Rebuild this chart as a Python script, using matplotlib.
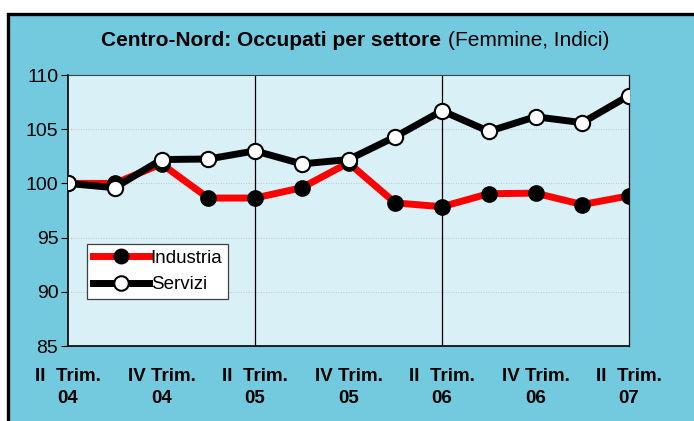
import numpy as np
import matplotlib
matplotlib.use('Agg')
import matplotlib.pyplot as plt
from matplotlib.patches import Rectangle

plt.rcParams['font.family'] = ['Liberation Sans', 'DejaVu Sans']

# dati: indici, II trim. 2004 = 100
trimestri = np.arange(13)
industria = [100.0, 100.0, 101.8, 98.65, 98.65, 99.6, 101.9, 98.2, 97.85, 99.05, 99.1, 98.05, 98.85]
servizi = [100.0, 99.6, 102.2, 102.25, 103.0, 101.8, 102.2, 104.3, 106.7, 104.8, 106.15, 105.6, 108.1]
etichette = ['II  Trim.\n04', 'IV Trim.\n04', 'II  Trim.\n05', 'IV Trim.\n05',
             'II  Trim.\n06', 'IV Trim.\n06', 'II  Trim.\n07']

blu = '#73cadf'
fondo = '#daf0f7'

fig = plt.figure(figsize=(6.94, 4.21), dpi=100, facecolor='white')
fig.patches.append(Rectangle((8/694, -0.1), 1.2, 1.1 - 13.5/421, transform=fig.transFigure,
                             facecolor=blu, edgecolor='black', linewidth=2.4, zorder=0))

ax = fig.add_axes([68/694, 1 - 346/421, (629 - 68)/694, (346 - 75)/421])
ax.set_zorder(2)
ax.set_facecolor(fondo)

ax.plot(trimestri, industria, color='red', lw=5, marker='o', ms=11,
        mfc='black', mec='black', label='Industria', zorder=3)
ax.plot(trimestri, servizi, color='black', lw=5, marker='o', ms=11,
        mfc='white', mec='black', mew=1.5, label='Servizi', zorder=4)

ax.set_xlim(0, 12)
ax.set_ylim(85, 110)
ax.set_yticks([85, 90, 95, 100, 105, 110])
ax.set_xticks(trimestri[::2])
ax.set_xticklabels(etichette, fontweight='bold', fontsize=13.5, linespacing=1.35)
ax.tick_params(axis='x', length=0, pad=16)
ax.tick_params(axis='y', direction='out', length=5, labelsize=14, pad=2)
for v in [90, 95, 100, 105]:
    ax.axhline(v, color='#b0b8bc', lw=0.6, ls=(0, (1, 2)), zorder=1)
for x in [4, 8]:
    ax.axvline(x, color='black', lw=0.9, zorder=2)
for s in ax.spines.values():
    s.set_linewidth(0.9)
    s.set_color('black')
ax.spines['bottom'].set_linewidth(1.2)
ax.spines['left'].set_linewidth(1.2)
ax.spines['top'].set_color('#404040')
ax.spines['top'].set_linewidth(0.8)

leg = ax.legend(loc='upper left', bbox_to_anchor=((87 - 68)/561, (346 - 244)/271),
                fontsize=13.5, frameon=True, fancybox=False, borderpad=0.3,
                handlelength=3.0, handletextpad=0.1, labelspacing=0.5, borderaxespad=0,
                markerscale=0.95)
leg.get_frame().set_edgecolor('#404040')
leg.get_frame().set_linewidth(0.9)
leg.get_frame().set_alpha(1)

fig.text(441/694, 1 - 40/421, 'Centro-Nord: Occupati per settore', ha='right', va='center',
         fontsize=15, fontweight='bold', zorder=3)
fig.text(448/694, 1 - 40/421, '(Femmine, Indici)', ha='left', va='center', fontsize=15, zorder=3)

fig.savefig('out.png', dpi=100, facecolor=fig.get_facecolor())
